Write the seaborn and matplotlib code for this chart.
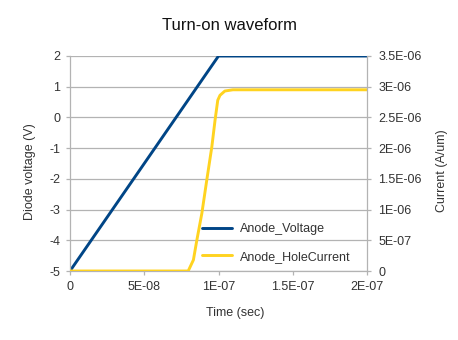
import matplotlib
matplotlib.use("Agg")
import matplotlib.pyplot as plt
import seaborn as sns
import pandas as pd
import numpy as np
from matplotlib.ticker import FixedLocator, FixedFormatter

sns.set_theme(style="white")
plt.rcParams['font.family'] = ['Liberation Sans', 'DejaVu Sans']

# Data
volt_time = [0.0, 1.0e-07, 2.0e-07]
volt_value = [-5.0, 2.0, 2.0]

cur_time = [0.0, 7.96e-08, 8.31e-08, 8.54e-08, 8.88e-08, 9.21e-08, 9.55e-08,
            9.77e-08, 9.95e-08, 1.01e-07, 1.043e-07, 1.097e-07, 1.177e-07, 2.0e-07]
cur_value = [0.0, 0.0, 0.18e-06, 0.50e-06, 0.94e-06, 1.48e-06, 2.02e-06,
             2.46e-06, 2.78e-06, 2.86e-06, 2.93e-06, 2.95e-06, 2.95e-06, 2.95e-06]

x_ticks = [0, 5e-08, 1e-07, 1.5e-07, 2e-07]
x_labels = ["0", "5E-08", "1E-07", "1.5E-07", "2E-07"]
y_ticks = [-5, -4, -3, -2, -1, 0, 1, 2]
y_labels = ["-5", "-4", "-3", "-2", "-1", "0", "1", "2"]
y2_ticks = [0, 5e-07, 1e-06, 1.5e-06, 2e-06, 2.5e-06, 3e-06, 3.5e-06]
y2_labels = ["0", "5E-07", "1E-06", "1.5E-06", "2E-06", "2.5E-06", "3E-06", "3.5E-06"]

volt_df = pd.DataFrame({"t": volt_time, "v": volt_value})
cur_df = pd.DataFrame({"t": cur_time, "i": cur_value})

blue = "#004586"
yellow = "#ffd320"
gray = "#b3b3b3"
txt = "#333333"

W, H = 458, 340
L, R, T, B = 70, 367, 56, 271
fig = plt.figure(figsize=(W/100, H/100), dpi=100)
ax = fig.add_axes([L/W, (H-B)/H, (R-L)/W, (B-T)/H])
ax2 = ax.twinx()

sns.lineplot(data=volt_df, x="t", y="v", ax=ax, color=blue, linewidth=2.1,
             label="Anode_Voltage", legend=False)
sns.lineplot(data=cur_df, x="t", y="i", ax=ax2, color=yellow, linewidth=2.1,
             label="Anode_HoleCurrent", legend=False)

ax.set_xlim(0, 2e-07)
ax.set_ylim(-5, 2)
ax2.set_ylim(0, 3.5e-06)

ax.xaxis.set_major_locator(FixedLocator(x_ticks))
ax.xaxis.set_major_formatter(FixedFormatter(x_labels))
ax.yaxis.set_major_locator(FixedLocator(y_ticks))
ax.yaxis.set_major_formatter(FixedFormatter(y_labels))
ax2.yaxis.set_major_locator(FixedLocator(y2_ticks))
ax2.yaxis.set_major_formatter(FixedFormatter(y2_labels))

ax.grid(axis="y", color=gray, linewidth=0.9)
ax.set_axisbelow(True)

for a in (ax, ax2):
    for s in a.spines.values():
        s.set_visible(False)
ax.spines["left"].set_visible(True)
ax.spines["bottom"].set_visible(True)
ax2.spines["right"].set_visible(True)
for s in (ax.spines["left"], ax.spines["bottom"], ax2.spines["right"]):
    s.set_color(gray)
    s.set_linewidth(0.9)

ax.tick_params(axis="both", which="major", direction="out", length=3, width=0.9,
               color=gray, labelsize=9, labelcolor=txt, pad=4, bottom=True, left=True)
ax2.tick_params(axis="y", direction="out", length=3, width=0.9, color=gray,
                labelsize=9, labelcolor=txt, pad=5, right=True)

ax.set_xlabel("Time (sec)", fontsize=9, color=txt)
ax.xaxis.set_label_coords((235 - L) / (R - L), (B - 313) / (B - T))
ax.xaxis.label.set_va("center")
ax.set_ylabel("Diode voltage (V)", fontsize=9, color=txt)
ax.yaxis.set_label_coords((30 - L) / (R - L), (B - 172) / (B - T))
ax.yaxis.label.set_va("center")
ax2.set_ylabel("Current (A/um)", fontsize=9, color=txt)
ax2.yaxis.set_label_coords((442 - L) / (R - L), (B - 171) / (B - T))
ax2.yaxis.label.set_va("center")

fig.text(0.5, 1 - 26 / H, "Turn-on waveform", fontsize=12, color="#111111",
         ha="center", va="center")

h1, l1 = ax.get_legend_handles_labels()
h2, l2 = ax2.get_legend_handles_labels()
leg = ax2.legend(h1 + h2, l1 + l2, loc="center right",
                 bbox_to_anchor=((356 - L) / (R - L), (B - 243) / (B - T)),
                 frameon=False, fontsize=9, handlelength=2.4, labelspacing=1.25,
                 handletextpad=0.65, borderaxespad=0.0)
for t in leg.get_texts():
    t.set_color(txt)

fig.savefig("out.png", dpi=100)
